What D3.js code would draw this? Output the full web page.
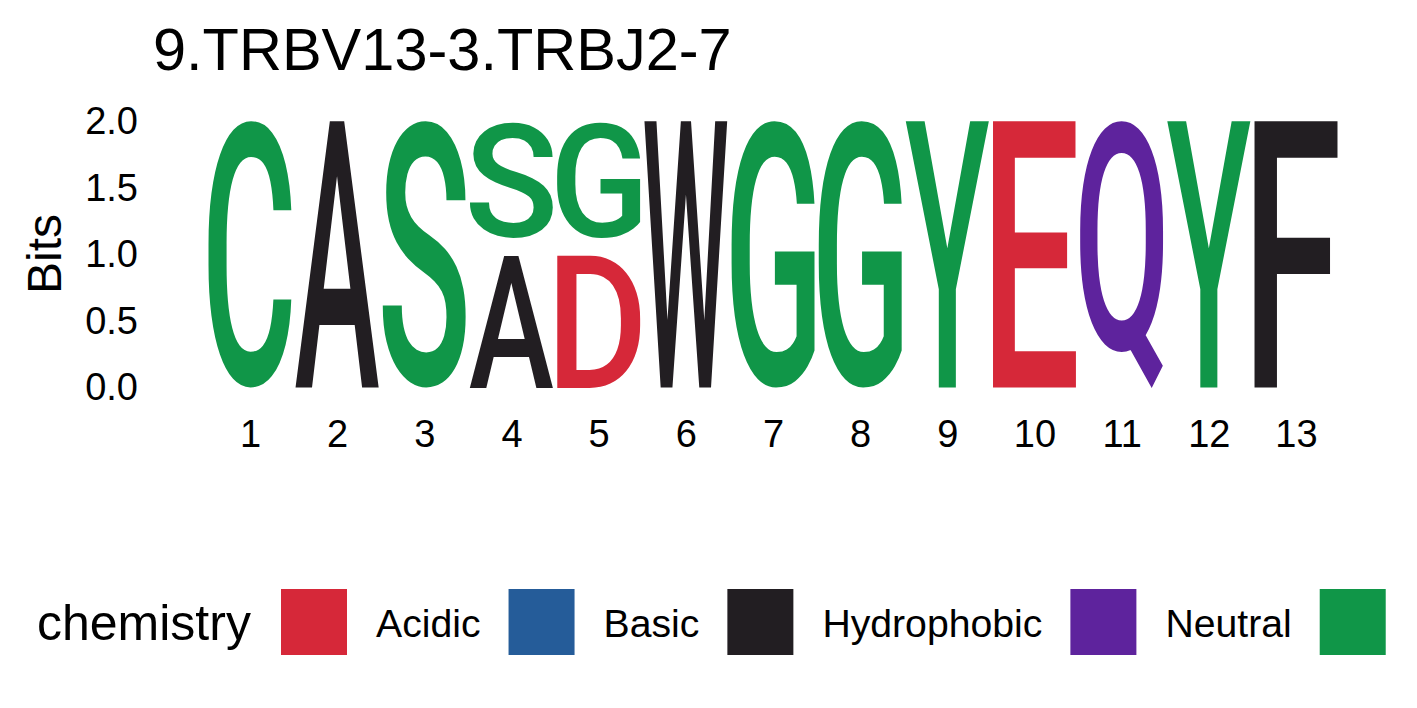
<!DOCTYPE html>
<html lang="en">
<head>
<meta charset="utf-8">
<title>9.TRBV13-3.TRBJ2-7</title>
<script src="https://cdn.jsdelivr.net/npm/d3@7/dist/d3.min.js"></script>
<style>
  body { margin: 0; background: #fff; }
  text { font-family: "Liberation Sans", Arial, sans-serif; fill: #000; }
</style>
</head>
<body>
<svg id="logo" width="1417" height="708"></svg>
<script>
// chart values
var chartTitle = "9.TRBV13-3.TRBJ2-7";
var positions = [1, 2, 3, 4, 5, 6, 7, 8, 9, 10, 11, 12, 13];
// letters stacked bottom to top at each position ("" = minor residues, not drawn)
var stackLetters = [["C"], ["A"], ["S"], ["A", "", "S"], ["D", "", "G"], ["W"], ["G"], ["G"], ["Y"], ["E"], ["Q"], ["Y"], ["F"]];
var stackBits = [[2.0], [2.0], [2.0], [0.99, 0.14, 0.87], [0.99, 0.14, 0.87], [2.0], [2.0], [2.0], [2.0], [2.0], [2.0], [2.0], [2.0]];
var yTicks = [0, 0.5, 1, 1.5, 2];

var chemGroups = ["Acidic", "Basic", "Hydrophobic", "Neutral", "Polar"];
var chemColors = ["#D62839", "#255C99", "#221E22", "#5E239D", "#109648"];
var chemLetters = ["DE", "RHK", "PAWFLIMV", "QN", "GSTYC"];

var svg = d3.select("#logo");
svg.append("rect").attr("width", 1417).attr("height", 708).attr("fill", "#fff");

var xScale = d3.scaleLinear().domain([0.5, 13.5]).range([206.4, 1339.6]);
var yScale = d3.scaleLinear().domain([0, 2]).range([387.5, 121.5]);
var colWidth = 0.95;

var colorOf = function(ch) {
  for (var i = 0; i < chemLetters.length; i++) {
    if (chemLetters[i].indexOf(ch) >= 0) return chemColors[i];
  }
  return "#999";
};

// ink box of a glyph (pixel scan), so it can be stretched to fill its cell
var FS = 400, PAD = 200;
var cv = document.createElement("canvas");
cv.width = FS * 2; cv.height = FS * 2;
var ctx = cv.getContext("2d", { willReadFrequently: true });
var boxCache = {};
function inkBox(ch) {
  if (boxCache[ch]) return boxCache[ch];
  ctx.clearRect(0, 0, cv.width, cv.height);
  ctx.font = "500 " + FS + "px Roboto";
  ctx.textBaseline = "alphabetic";
  ctx.fillStyle = "#000";
  ctx.fillText(ch, PAD, FS * 1.3);
  var px = ctx.getImageData(0, 0, cv.width, cv.height).data;
  var x0 = cv.width, x1 = -1, y0 = cv.height, y1 = -1;
  for (var y = 0; y < cv.height; y++) {
    for (var x = 0; x < cv.width; x++) {
      if (px[(y * cv.width + x) * 4 + 3] > 127) {
        if (x < x0) x0 = x; if (x > x1) x1 = x;
        if (y < y0) y0 = y; if (y > y1) y1 = y;
      }
    }
  }
  var b = { l: PAD - x0, r: x1 + 1 - PAD, a: FS * 1.3 - y0, d: y1 + 1 - FS * 1.3 };
  boxCache[ch] = b;
  return b;
}

var cells = [];
positions.forEach(function(p, i) {
  var y0 = 0;
  stackLetters[i].forEach(function(ch, j) {
    var h = stackBits[i][j];
    if (ch !== "") cells.push({ pos: p, letter: ch, y0: y0, y1: y0 + h });
    y0 += h;
  });
});

var g = svg.append("g");
g.selectAll("text.letter")
  .data(cells)
  .enter().append("text")
  .attr("class", "letter")
  .style("font-family", "Roboto")
  .style("font-weight", 500)
  .style("font-size", FS + "px")
  .style("fill", function(d) { return colorOf(d.letter); })
  .attr("transform", function(d) {
    var b = inkBox(d.letter);
    var left = xScale(d.pos - colWidth / 2), right = xScale(d.pos + colWidth / 2);
    var top = yScale(d.y1), bottom = yScale(d.y0);
    var sx = (right - left) / (b.l + b.r), sy = (bottom - top) / (b.a + b.d);
    return "translate(" + left + "," + top + ") scale(" + sx + "," + sy + ") translate(" + b.l + "," + b.a + ")";
  })
  .text(function(d) { return d.letter; });

// axes
var yAxis = svg.append("g")
  .attr("transform", "translate(150,0)")
  .call(d3.axisLeft(yScale).tickValues(yTicks).tickFormat(d3.format(".1f")).tickSize(0).tickPadding(12));
var xAxis = svg.append("g")
  .attr("transform", "translate(0,388)")
  .call(d3.axisBottom(xScale).tickValues(positions).tickFormat(d3.format("d")).tickSize(0).tickPadding(32));
[yAxis, xAxis].forEach(function(ax) {
  ax.select(".domain").remove();
  ax.selectAll("text").style("font-size", "38px").style("font-family", "Liberation Sans").attr("fill", "#000");
});

svg.append("text")
  .attr("transform", "translate(61,254) rotate(-90)")
  .attr("text-anchor", "middle")
  .style("font-size", "48px")
  .text("Bits");

svg.append("text")
  .attr("x", 153)
  .attr("y", 70)
  .style("font-size", "59.5px")
  .text(chartTitle);

// legend along the bottom (the last label falls past the right edge, as in the original)
var legend = svg.append("g");
legend.append("text")
  .attr("x", 37)
  .attr("y", 640)
  .style("font-size", "50px")
  .text("chemistry");

var keyX = 281;
chemGroups.forEach(function(name, i) {
  legend.append("rect")
    .attr("x", keyX).attr("y", 589)
    .attr("width", 66).attr("height", 66)
    .attr("fill", chemColors[i]);
  var labelX = keyX + 66 + 29;
  if (labelX >= 1410) return;
  var t = legend.append("text")
    .attr("x", labelX)
    .attr("y", 637)
    .style("font-size", "39.2px")
    .text(name);
  keyX = labelX + t.node().getComputedTextLength() + 28;
});
</script>
</body>
</html>
